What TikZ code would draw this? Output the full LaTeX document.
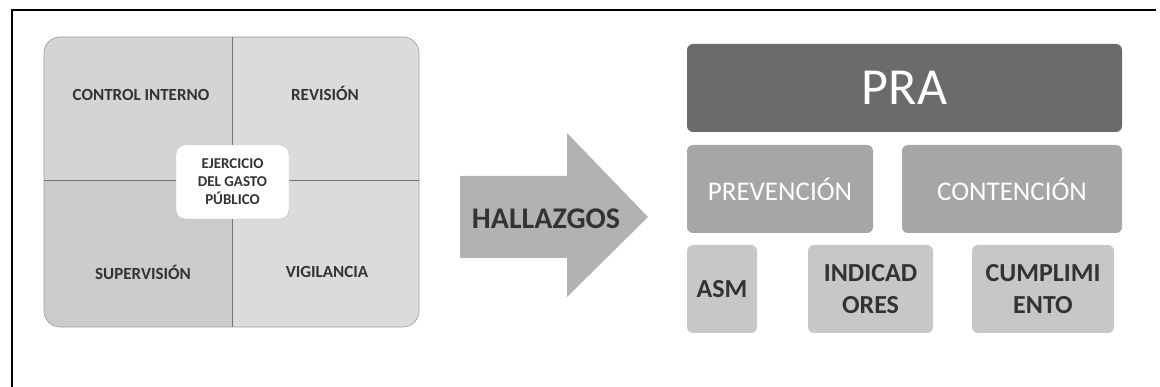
\documentclass[tikz,border=0pt]{standalone}
\usepackage{fontspec}
\setmainfont{Carlito}
\begin{document}
\begin{tikzpicture}[x=1pt,y=-1pt,
  quadlabel/.style={font=\bfseries\fontsize{17}{20}\selectfont, text=black!80},
  prabox/.style={rectangle, rounded corners=6pt, fill=black!58, text=white, font=\fontsize{52}{56}\selectfont},
  midbox/.style={rectangle, rounded corners=6pt, fill=black!35, text=white, font=\fontsize{27}{30}\selectfont},
  lowbox/.style={rectangle, rounded corners=6pt, fill=black!22, text=black!80, font=\bfseries\fontsize{26}{32}\selectfont, align=center},
  divider/.style={draw=black!55, line width=0.8pt}
]
\useasboundingbox (0,0) rectangle (1160,387);
% frame
\draw[line width=1.6pt] (1156,10) -- (12,10) -- (12,387);
% left panel
\begin{scope}
\clip[rounded corners=16pt] (44,37) rectangle (419,327);
\fill[black!20] (44,37) rectangle (232,327);
\fill[black!14] (232,37) rectangle (419,327);
\fill[black!17] (44,37) rectangle (232,180);
\end{scope}
\draw[draw=black!40, line width=0.6pt, rounded corners=16pt] (44,37) rectangle (419,327);
\draw[divider] (232,37) -- (232,327);
\draw[divider] (44,180) -- (419,180);
\node[quadlabel] (ci) at (141,95) {CONTROL INTERNO};
\node[quadlabel] (rev) at (325,93) {REVISIÓN};
\node[quadlabel] (sup) at (143,272) {SUPERVISIÓN};
\node[quadlabel] (vig) at (327,272) {VIGILANCIA};
\node[rectangle, rounded corners=9pt, fill=white, draw=black!25, minimum width=113pt, minimum height=74pt,
  font=\bfseries\fontsize{15}{18}\selectfont, text=black!80, align=center] (ejer) at (232.5,182) {EJERCICIO\\DEL GASTO\\PÚBLICO};
% arrow
\fill[black!30] (460,176) -- (567,176) -- (567,133) -- (648,217) -- (567,297) -- (567,258) -- (460,258) -- cycle;
\node[font=\bfseries\fontsize{30}{34}\selectfont, text=black!80] (hall) at (546,219) {HALLAZGOS};
% right panel
\node[prabox, minimum width=435pt, minimum height=88pt] (pra) at (904.5,88) {PRA};
\node[midbox, minimum width=186pt, minimum height=88pt] (prev) at (780,189) {PREVENCIÓN};
\node[midbox, minimum width=220pt, minimum height=88pt] (cont) at (1012,189) {CONTENCIÓN};
\node[lowbox, minimum width=70pt, minimum height=88pt] (asm) at (722,289) {ASM};
\node[lowbox, minimum width=125pt, minimum height=88pt] (ind) at (870.5,289) {INDICAD\\ORES};
\node[lowbox, minimum width=142pt, minimum height=88pt] (cum) at (1043,289) {CUMPLIMI\\ENTO};
\end{tikzpicture}
\end{document}
